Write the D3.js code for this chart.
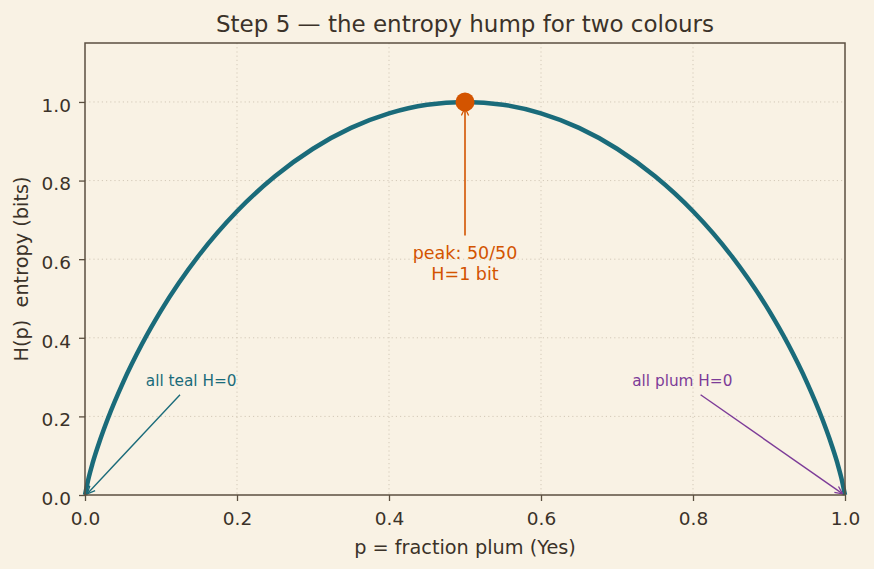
<!DOCTYPE html>
<html>
<head>
<meta charset="utf-8">
<script src="https://cdn.jsdelivr.net/npm/d3@7"></script>
<style>
  body { margin: 0; background: #f9f2e4; }
  svg text { font-family: "DejaVu Sans", sans-serif; }
</style>
</head>
<body>
<div id="chart"></div>
<script>
// p (fraction plum) and H(p) values
const pVals = [0, 0.005, 0.01, 0.02, 0.03, 0.05, 0.075, 0.1, 0.15, 0.2, 0.25, 0.3, 0.35, 0.4, 0.45, 0.5,
               0.55, 0.6, 0.65, 0.7, 0.75, 0.8, 0.85, 0.9, 0.925, 0.95, 0.97, 0.98, 0.99, 0.995, 1];
const hVals = [0, 0.045, 0.081, 0.141, 0.194, 0.286, 0.384, 0.469, 0.610, 0.722, 0.811, 0.881, 0.934, 0.971, 0.993, 1.0,
               0.993, 0.971, 0.934, 0.881, 0.811, 0.722, 0.610, 0.469, 0.384, 0.286, 0.194, 0.141, 0.081, 0.045, 0];
const xTicks = [0, 0.2, 0.4, 0.6, 0.8, 1.0];
const yTicks = [0, 0.2, 0.4, 0.6, 0.8, 1.0];
const peak = {p: 0.5, h: 1.0};

var width = 874, height = 569;
var margin = {top: 43, right: 29, bottom: 74, left: 85};
var innerW = width - margin.left - margin.right,
    innerH = height - margin.top - margin.bottom;

var ink = "#3b3229", spine = "#5b4f40", teal = "#1a6b7a", orange = "#d35400", plum = "#7d3c98";

var svg = d3.select("#chart").append("svg")
  .attr("width", width).attr("height", height)
  .style("background", "#f9f2e4");

var defs = svg.append("defs");
function arrowMarker(id, color) {
  defs.append("marker")
    .attr("id", id)
    .attr("viewBox", "0 0 10 10")
    .attr("refX", 9.5).attr("refY", 5)
    .attr("markerWidth", 9).attr("markerHeight", 9)
    .attr("markerUnits", "userSpaceOnUse")
    .attr("orient", "auto")
    .append("path")
    .attr("d", "M1,1 L9.5,5 L1,9")
    .attr("fill", "none")
    .attr("stroke", color)
    .attr("stroke-width", 1.4);
}
arrowMarker("arrTeal", teal);
arrowMarker("arrPlum", plum);
arrowMarker("arrOrange", orange);

var g = svg.append("g").attr("transform", "translate(" + margin.left + "," + margin.top + ")");

var x = d3.scaleLinear().domain([0, 1]).range([0, innerW]);
var y = d3.scaleLinear().domain([0, 1.15]).range([innerH, 0]);

// grid
g.append("g").selectAll("line").data(xTicks.slice(1, -1)).enter().append("line")
  .attr("x1", d => x(d)).attr("x2", d => x(d))
  .attr("y1", 0).attr("y2", innerH)
  .attr("stroke", "#d3c9b8").attr("stroke-width", 1).attr("stroke-dasharray", "1.2,3");
g.append("g").selectAll("line").data(yTicks.slice(1)).enter().append("line")
  .attr("x1", 0).attr("x2", innerW)
  .attr("y1", d => y(d)).attr("y2", d => y(d))
  .attr("stroke", "#d3c9b8").attr("stroke-width", 1).attr("stroke-dasharray", "1.2,3");

// curve
var line = d3.line()
  .x((d, i) => x(pVals[i]))
  .y(d => y(d))
  .curve(d3.curveMonotoneX);

g.append("path")
  .datum(hVals)
  .attr("d", line)
  .attr("fill", "none")
  .attr("stroke", teal)
  .attr("stroke-width", 4.5);

// peak annotation
g.append("line")
  .attr("x1", x(peak.p)).attr("x2", x(peak.p))
  .attr("y1", y(0.66)).attr("y2", y(0.985))
  .attr("stroke", orange).attr("stroke-width", 1.6)
  .attr("marker-end", "url(#arrOrange)");
g.append("circle")
  .attr("cx", x(peak.p)).attr("cy", y(peak.h)).attr("r", 9.5)
  .attr("fill", orange);
var pk = g.append("text")
  .attr("x", x(peak.p)).attr("text-anchor", "middle")
  .attr("fill", orange).style("font-size", "17.5px");
pk.append("tspan").attr("x", x(peak.p)).attr("y", y(0.6)).text("peak: 50/50");
pk.append("tspan").attr("x", x(peak.p)).attr("y", y(0.6) + 21).text("H=1 bit");

// end annotations
g.append("line")
  .attr("x1", x(0.125)).attr("y1", y(0.255))
  .attr("x2", x(0.003)).attr("y2", y(0.003))
  .attr("stroke", teal).attr("stroke-width", 1.4)
  .attr("marker-end", "url(#arrTeal)");
g.append("text")
  .attr("x", x(0.08)).attr("y", y(0.28) + 1)
  .attr("fill", teal).style("font-size", "15.3px")
  .text("all teal H=0");

g.append("line")
  .attr("x1", x(0.81)).attr("y1", y(0.255))
  .attr("x2", x(0.997)).attr("y2", y(0.003))
  .attr("stroke", plum).attr("stroke-width", 1.4)
  .attr("marker-end", "url(#arrPlum)");
g.append("text")
  .attr("x", x(0.72)).attr("y", y(0.28) + 1)
  .attr("fill", plum).style("font-size", "15.3px")
  .text("all plum H=0");

// axes
var xAxis = g.append("g").attr("transform", "translate(0," + innerH + ")")
  .call(d3.axisBottom(x).tickValues(xTicks).tickFormat(d3.format(".1f")).tickSize(6).tickPadding(11));
var yAxis = g.append("g")
  .call(d3.axisLeft(y).tickValues(yTicks).tickFormat(d3.format(".1f")).tickSize(6).tickPadding(8));
[xAxis, yAxis].forEach(function(a) {
  a.select(".domain").remove();
  a.selectAll(".tick line").attr("stroke", spine).attr("stroke-width", 1.3);
  a.selectAll(".tick text").attr("fill", ink).style("font-size", "18.5px").style("font-family", "DejaVu Sans, sans-serif");
});
yAxis.selectAll(".tick text").attr("dy", "0.5em");

// frame
g.append("rect")
  .attr("width", innerW).attr("height", innerH)
  .attr("fill", "none").attr("stroke", spine).attr("stroke-width", 1.5);

// labels
svg.append("text")
  .attr("x", margin.left + innerW / 2).attr("y", 32)
  .attr("text-anchor", "middle").attr("fill", ink)
  .style("font-size", "23px")
  .text("Step 5 \u2014 the entropy hump for two colours");

svg.append("text")
  .attr("x", margin.left + innerW / 2).attr("y", 554)
  .attr("text-anchor", "middle").attr("fill", ink)
  .style("font-size", "19.3px")
  .text("p = fraction plum (Yes)");

svg.append("text")
  .attr("transform", "translate(28," + (margin.top + innerH / 2) + ") rotate(-90)")
  .attr("text-anchor", "middle").attr("fill", ink)
  .style("font-size", "19.3px").style("white-space", "pre")
  .text("H(p)  entropy (bits)");
</script>
</body>
</html>
